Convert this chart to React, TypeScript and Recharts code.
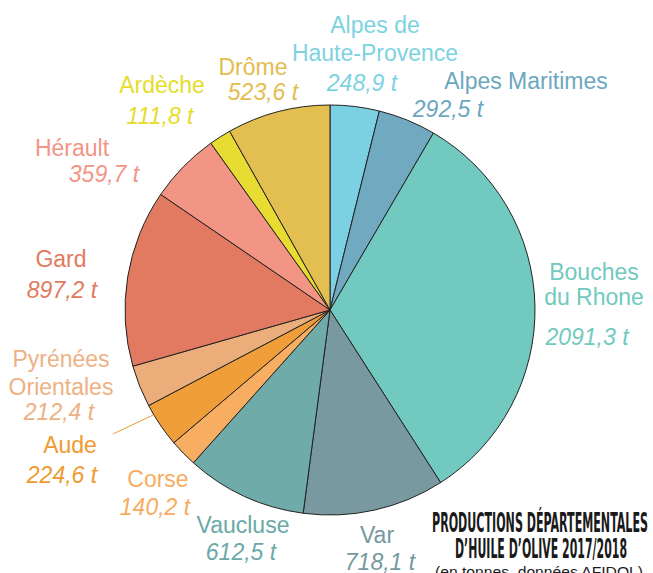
import { Cell, Pie, PieChart } from 'recharts';

const regionNames = [
  ['Alpes de', 'Haute-Provence'],
  ['Alpes Maritimes'],
  ['Bouches', 'du Rhone'],
  ['Var'],
  ['Vaucluse'],
  ['Corse'],
  ['Aude'],
  ['Pyrénées', 'Orientales'],
  ['Gard'],
  ['Hérault'],
  ['Ardèche'],
  ['Drôme'],
];
const productionTonnes = [248.9, 292.5, 2091.3, 718.1, 612.5, 140.2, 224.6, 212.4, 897.2, 359.7, 111.8, 523.6];

const titleLines = ['PRODUCTIONS DÉPARTEMENTALES', 'D’HUILE D’OLIVE 2017/2018'];
const subtitle = '(en tonnes, données AFIDOL)';

const SLICE_COLORS = [
  '#7bd1e1', '#70a9c0', '#72c9bf', '#77999f', '#6eaba9', '#f8ae62',
  '#f09e3a', '#ebad7a', '#e27a62', '#f29585', '#e8dc32', '#e3bf52',
];
const TEXT_COLORS = [
  '#7dd2e2', '#6ca7bf', '#72c9bf', '#75999f', '#6aa9a7', '#f7ac60',
  '#f09a30', '#eeb184', '#e17a60', '#f39585', '#e6dc2c', '#e3bd4e',
];

// label placement: name centre x, name baselines, value centre x, value baseline
const LABEL_LAYOUT = [
  { nx: 375, ny: [33, 61], vx: 362, vy: 91 },
  { nx: 526, ny: [89], vx: 448, vy: 117 },
  { nx: 594, ny: [280, 305], vx: 587, vy: 345 },
  { nx: 377, ny: [543], vx: 380, vy: 570 },
  { nx: 243, ny: [533], vx: 241, vy: 560 },
  { nx: 158, ny: [487], vx: 155, vy: 515 },
  { nx: 70, ny: [453], vx: 62, vy: 483 },
  { nx: 61, ny: [367, 395], vx: 59, vy: 420 },
  { nx: 61, ny: [267], vx: 62, vy: 298 },
  { nx: 72, ny: [156], vx: 104, vy: 182 },
  { nx: 162, ny: [93], vx: 160, vy: 124 },
  { nx: 253, ny: [75], vx: 263, vy: 100 },
];

const rows = regionNames.map((name, i) => ({ key: name.join(' '), value: productionTonnes[i] }));

const fmt = (v: number) => `${v.toFixed(1).replace('.', ',')} t`;

function SliceLabel(props: any) {
  const { index } = props;
  const pos = LABEL_LAYOUT[index];
  const color = TEXT_COLORS[index];
  return (
    <g fontFamily="'Liberation Sans', Arial, sans-serif" fontSize={23} fill={color}>
      {regionNames[index].map((line, j) => (
        <text key={j} x={pos.nx} y={pos.ny[j]} textAnchor="middle" fill={color}>{line}</text>
      ))}
      <text x={pos.vx} y={pos.vy} textAnchor="middle" fontStyle="italic" fill={color}>
        {fmt(productionTonnes[index])}
      </text>
      {index === 6 && <line x1={113} y1={434} x2={153} y2={415} stroke={color} strokeWidth={1} />}
    </g>
  );
}

export default function App() {
  return (
    <div style={{ position: 'absolute', left: 0, top: 0, width: 653, height: 573, background: '#fff' }}>
      <PieChart width={653} height={573} margin={{ top: 0, right: 0, bottom: 0, left: 0 }}>
        <Pie
          data={rows}
          dataKey="value"
          nameKey="key"
          cx={330}
          cy={310}
          outerRadius={205}
          startAngle={90}
          endAngle={-270}
          stroke="#222"
          strokeWidth={1}
          label={SliceLabel}
          labelLine={false}
          isAnimationActive={false}
        >
          {rows.map((r, i) => (
            <Cell key={r.key} fill={SLICE_COLORS[i]} />
          ))}
        </Pie>
      </PieChart>
      <svg width={653} height={573} style={{ position: 'absolute', left: 0, top: 0, pointerEvents: 'none' }}>
        <g fontFamily="'DejaVu Sans Condensed', 'DejaVu Sans', sans-serif" fontWeight="bold" fill="#1a1a1a">
          <text x={432} y={532} fontSize={26} textLength={216} lengthAdjust="spacingAndGlyphs">{titleLines[0]}</text>
          <text x={455} y={558} fontSize={26} textLength={172} lengthAdjust="spacingAndGlyphs">{titleLines[1]}</text>
        </g>
        <text x={435} y={577} fontSize={15} fontFamily="'Liberation Sans', Arial, sans-serif" fill="#1a1a1a"
          textLength={208} lengthAdjust="spacingAndGlyphs">{subtitle}</text>
      </svg>
    </div>
  );
}
